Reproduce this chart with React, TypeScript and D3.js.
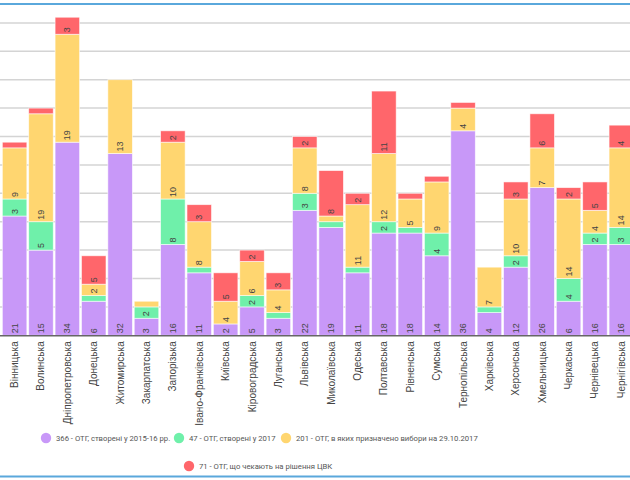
import React from "react";
import * as d3 from "d3";

// області
const regions = [
  "Вінницька", "Волинська", "Дніпропетровська", "Донецька", "Житомирська",
  "Закарпатська", "Запорізька", "Івано-Франківська", "Київська", "Кіровоградська",
  "Луганська", "Львівська", "Миколаївська", "Одеська", "Полтавська",
  "Рівненська", "Сумська", "Тернопільська", "Харківська", "Херсонська",
  "Хмельницька", "Черкаська", "Чернівецька", "Чернігівська",
];

// кількість ОТГ по кожній області
const created1516 = [21, 15, 34, 6, 32, 3, 16, 11, 2, 5, 3, 22, 19, 11, 18, 18, 14, 36, 4, 12, 26, 6, 16, 16];
const created2017 = [3, 5, 0, 1, 0, 2, 8, 1, 0, 2, 1, 3, 1, 1, 2, 1, 4, 0, 1, 2, 0, 4, 2, 3];
const electionsSet = [9, 19, 19, 2, 13, 1, 10, 8, 4, 6, 4, 8, 1, 11, 12, 5, 9, 4, 7, 10, 7, 14, 4, 14];
const waitingCvk = [1, 1, 3, 5, 0, 0, 2, 3, 5, 2, 3, 2, 8, 2, 11, 1, 1, 1, 0, 3, 6, 2, 5, 4];

const seriesNames = [
  "366 - ОТГ, створені у 2015-16 рр.",
  "47 - ОТГ, створені у 2017",
  "201 - ОТГ, в яких призначено вибори на 29.10.2017",
  "71 - ОТГ, що чекають на рішення ЦВК",
];
const seriesColors = ["#c898f8", "#6ff0aa", "#ffd670", "#ff666b"];

const gridTicks = [5, 10, 15, 20, 25, 30, 35, 40, 45, 50, 55];

const W = 630;
const H = 480;
const baseY = 335.3;

export default function App() {
  const keys = ["a", "b", "c", "d"];
  const rows = regions.map((r, i) => ({
    region: r,
    a: created1516[i],
    b: created2017[i],
    c: electionsSet[i],
    d: waitingCvk[i],
  }));
  const stacked = d3.stack<any>().keys(keys)(rows);

  const x = d3
    .scaleBand()
    .domain(regions)
    .range([1.4, 1.4 + 24 * 26.38])
    .paddingInner(0.07)
    .paddingOuter(0.035);
  const y = d3.scaleLinear().domain([0, 60]).range([baseY, baseY - 60 * 5.68]);

  // легенда: два рядки
  const legendRows = [
    [
      { i: 0, x: 46 },
      { i: 1, x: 179 },
      { i: 2, x: 286 },
    ],
    [{ i: 3, x: 189 }],
  ];
  const legendY = [438, 466];

  return (
    <div style={{ position: "fixed", left: 0, top: 0 }}>
      <svg width={W} height={H} style={{ display: "block", background: "#fff" }}>
        <line x1={0} x2={W} y1={4} y2={4} stroke="#5aa8dc" strokeWidth={2} />
        {gridTicks.map((t) => (
          <line key={t} x1={0} x2={W} y1={y(t)} y2={y(t)} stroke="#d4d4d4" strokeWidth={1.5} />
        ))}

        {stacked.map((s, si) => (
          <g key={s.key} fill={seriesColors[si]}>
            {s.map((d) => {
              const v = d[1] - d[0];
              if (v <= 0) return null;
              const bx = x(d.data.region)!;
              return (
                <rect
                  key={d.data.region}
                  x={bx}
                  y={y(d[1])}
                  width={x.bandwidth()}
                  height={y(d[0]) - y(d[1])}
                  stroke="#fff"
                  strokeOpacity={0.7}
                  strokeWidth={0.8}
                />
              );
            })}
          </g>
        ))}

        {stacked.map((s) =>
          s.map((d) => {
            const v = d[1] - d[0];
            if (v < 2) return null;
            const cx = x(d.data.region)! + x.bandwidth() / 2;
            const by = y(d[0]) - 2;
            return (
              <text
                key={s.key + d.data.region}
                transform={`translate(${cx + 3},${by}) rotate(-90)`}
                fontFamily="Arial, 'Liberation Sans', sans-serif"
                fontSize={9}
                fill="#444"
                textAnchor="start"
              >
                {v}
              </text>
            );
          })
        )}

        <line x1={0} x2={W} y1={baseY + 0.5} y2={baseY + 0.5} stroke="#666" strokeWidth={1.5} />

        {regions.map((r) => (
          <text
            key={r}
            transform={`translate(${x(r)! + x.bandwidth() / 2 + 3.5},${baseY + 6}) rotate(-90)`}
            textAnchor="end"
            fontFamily="Arial, 'Liberation Sans', sans-serif"
            fontSize={10}
            fill="#444"
          >
            {r}
          </text>
        ))}

        {legendRows.map((row, ri) =>
          row.map((it) => (
            <g key={it.i} transform={`translate(${it.x},${legendY[ri]})`}>
              <circle r={5.2} fill={seriesColors[it.i]} />
              <text x={10} y={3} fontFamily="Roboto, Arial, sans-serif" fontSize={7.7} fill="#555">
                {seriesNames[it.i]}
              </text>
            </g>
          ))
        )}

        <line x1={0} x2={W} y1={476.5} y2={476.5} stroke="#5aa8dc" strokeWidth={2} />
      </svg>
    </div>
  );
}
